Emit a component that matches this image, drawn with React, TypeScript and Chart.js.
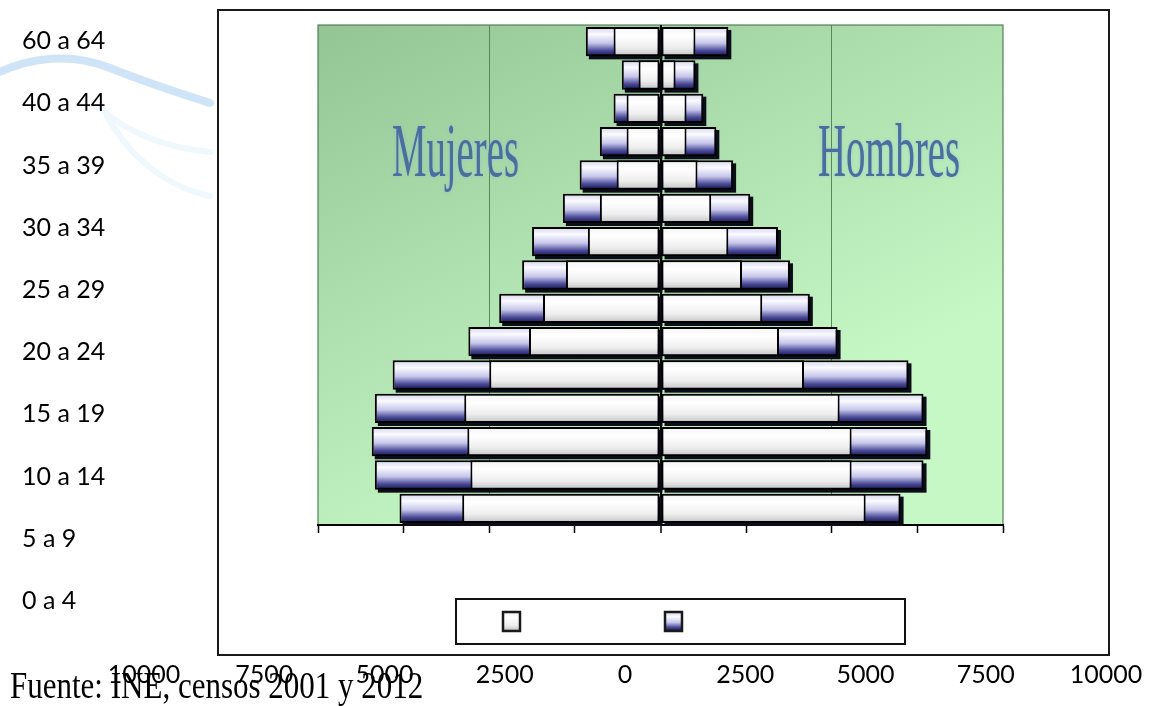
import React, { useEffect, useRef } from 'react';
import { Chart, registerables } from 'chart.js';
Chart.register(...registerables);

// ---------- data ----------
const ageGroups = ['0 a 4', '5 a 9', '10 a 14', '15 a 19', '20 a 24', '25 a 29', '30 a 34', '35 a 39', '40 a 44', '45 a 49', '50 a 54', '55 a 59', '60 a 64', '65 a 69', '70 y más'];
const mujeres2001 = [5790, 5550, 5640, 5730, 5000, 3840, 3430, 2760, 2120, 1770, 1280, 990, 990, 640, 1370];
const mujeres2012 = [7620, 8340, 8430, 8340, 7820, 5610, 4710, 4040, 3750, 2850, 2360, 1770, 1370, 1130, 2180];
const hombres2001 = [5990, 5580, 5580, 5230, 4190, 3460, 2970, 2380, 1980, 1480, 1080, 760, 760, 440, 1020];
const hombres2012 = [7010, 7680, 7790, 7680, 7240, 5170, 4360, 3780, 3430, 2620, 2120, 1630, 1250, 1020, 1980];
const seriesNames = ['Censo 2001', 'Censo 2012'];
const sideTitles = ['Mujeres', 'Hombres'];
const axisLabels = ['0 a 4', '5 a 9', '10 a 14', '15 a 19', '20 a 24', '25 a 29', '30 a 34', '35 a 39', '40 a 44', '60 a 64'];
const axisMin = -10000;
const axisMax = 10000;
const axisStep = 2500;
const sourceNote = 'Fuente: INE, censos 2001 y 2012';

const BAR_PCT = 0.88;
const LABEL_FONT = 'Lato, "Open Sans", sans-serif';
const X_LABEL_GAP = 59;

function whiteGradient(ctx: CanvasRenderingContext2D, y0: number, y1: number) {
  const g = ctx.createLinearGradient(0, y0, 0, y1);
  g.addColorStop(0, '#f4f4f4');
  g.addColorStop(0.3, '#ffffff');
  g.addColorStop(0.7, '#eeeeee');
  g.addColorStop(0.9, '#d0d0d0');
  g.addColorStop(1, '#a8a8a8');
  return g;
}
function blueGradient(ctx: CanvasRenderingContext2D, y0: number, y1: number) {
  const g = ctx.createLinearGradient(0, y0, 0, y1);
  g.addColorStop(0, '#d4d4ee');
  g.addColorStop(0.25, '#fafaff');
  g.addColorStop(0.55, '#c6c6ea');
  g.addColorStop(0.8, '#4c4c9a');
  g.addColorStop(1, '#12124c');
  return g;
}

function barFill(kind: 'white' | 'blue') {
  return (c: any) => {
    const chart = c.chart;
    const ys = chart.scales && chart.scales.y;
    const ca = chart.chartArea;
    if (!ca || !ys || c.dataIndex === undefined) return kind === 'white' ? '#eeeeee' : '#a0a0d8';
    const h = ((ca.bottom - ca.top) / ageGroups.length) * BAR_PCT;
    const yc = ys.getPixelForValue(c.dataIndex);
    return kind === 'white'
      ? whiteGradient(chart.ctx, yc - h / 2, yc + h / 2)
      : blueGradient(chart.ctx, yc - h / 2, yc + h / 2);
  };
}

const backgroundPlugin = {
  id: 'pyramidBackground',
  beforeDraw(chart: any) {
    const { ctx, chartArea: ca } = chart;
    ctx.save();
    // decorative swoosh
    ctx.lineCap = 'round';
    ctx.strokeStyle = '#cfe5f7';
    ctx.lineWidth = 8;
    ctx.beginPath();
    ctx.moveTo(0, 72);
    ctx.bezierCurveTo(30, 58, 70, 52, 110, 68);
    ctx.bezierCurveTo(150, 84, 185, 95, 210, 103);
    ctx.stroke();
    ctx.strokeStyle = '#eef8fd';
    ctx.lineWidth = 6;
    ctx.beginPath();
    ctx.moveTo(100, 108);
    ctx.bezierCurveTo(130, 135, 170, 148, 210, 152);
    ctx.stroke();
    ctx.beginPath();
    ctx.moveTo(105, 112);
    ctx.bezierCurveTo(130, 160, 170, 188, 210, 196);
    ctx.stroke();

    // outer frame
    const fx = ca.left - 100, fy = ca.top - 15;
    const fw = ca.right + 106 - fx, fh = ca.bottom + 130 - fy;
    ctx.fillStyle = '#ffffff';
    ctx.fillRect(fx, fy, fw, fh);
    ctx.strokeStyle = '#1a1a1a';
    ctx.lineWidth = 2;
    ctx.strokeRect(fx, fy, fw, fh);

    // plot area gradient
    const w = ca.right - ca.left;
    const g = ctx.createLinearGradient(ca.left, ca.top, ca.left + w * 0.35, ca.bottom);
    g.addColorStop(0, '#93c493');
    g.addColorStop(0.5, '#aedfae');
    g.addColorStop(1, '#c6f8c6');
    ctx.fillStyle = g;
    ctx.fillRect(ca.left, ca.top, w, ca.bottom - ca.top);
    ctx.strokeStyle = 'rgba(70,110,70,0.7)';
    ctx.lineWidth = 1.5;
    ctx.strokeRect(ca.left, ca.top, w, ca.bottom - ca.top);
    ctx.restore();
  },
  beforeDatasetsDraw(chart: any) {
    const { ctx, chartArea: ca } = chart;
    // side titles
    ctx.save();
    ctx.font = '76px "Liberation Serif", "Times New Roman", serif';
    ctx.fillStyle = '#4a6e9e';
    ctx.shadowColor = 'rgba(140,180,230,0.6)';
    ctx.shadowBlur = 3;
    const baseY = ca.top + 151;
    [ca.left + 74, ca.left + 500].forEach((x, i) => {
      ctx.save();
      ctx.translate(x, baseY);
      ctx.scale(0.51, 1);
      ctx.fillText(sideTitles[i], 0, 0);
      ctx.restore();
    });
    ctx.restore();
    // drop shadows of the bars
    ctx.save();
    ctx.fillStyle = '#0d0d1a';
    [2, 3].forEach((di) => {
      chart.getDatasetMeta(di).data.forEach((el: any) => {
        const p = el.getProps(['x', 'y', 'base', 'height'], true);
        const l = Math.min(p.x, p.base), r = Math.max(p.x, p.base);
        ctx.fillRect(l + 3, p.y - p.height / 2 + 3, r - l, p.height);
      });
    });
    ctx.restore();
  },
  afterDraw(chart: any) {
    const { ctx, chartArea: ca } = chart;
    ctx.save();
    const lx = ca.left + 138, ly = ca.bottom + 74, lw = 449, lh = 45;
    ctx.fillStyle = '#ffffff';
    ctx.fillRect(lx, ly, lw, lh);
    ctx.strokeStyle = '#111';
    ctx.lineWidth = 2;
    ctx.strokeRect(lx, ly, lw, lh);
    seriesNames.forEach((name, i) => {
      const sx = lx + 47 + i * 162, sy = ly + 13, s = 17;
      ctx.fillStyle = i === 0 ? whiteGradient(ctx, sy, sy + s + 2) : blueGradient(ctx, sy, sy + s + 2);
      ctx.fillRect(sx, sy, s, s + 2);
      ctx.strokeStyle = '#1a1a1a';
      ctx.lineWidth = 2.5;
      ctx.strokeRect(sx, sy, s, s + 2);
    });
    ctx.restore();
  },
};

function PyramidChart() {
  const ref = useRef<HTMLCanvasElement>(null);
  useEffect(() => {
    if (!ref.current) return;
    const common = {
      grouped: false,
      barPercentage: BAR_PCT,
      categoryPercentage: 1,
      borderColor: '#000',
      borderWidth: 2,
      borderSkipped: false as const,
    };
    const chart = new Chart(ref.current, {
      type: 'bar',
      data: {
        labels: ageGroups,
        datasets: [
          { ...common, label: seriesNames[0] + ' ' + sideTitles[0], data: mujeres2001.map((v) => -v), backgroundColor: barFill('white') },
          { ...common, label: seriesNames[0] + ' ' + sideTitles[1], data: hombres2001, backgroundColor: barFill('white') },
          { ...common, label: seriesNames[1] + ' ' + sideTitles[0], data: mujeres2012.map((v) => -v), backgroundColor: barFill('blue') },
          { ...common, label: seriesNames[1] + ' ' + sideTitles[1], data: hombres2012, backgroundColor: barFill('blue') },
        ],
      },
      options: {
        indexAxis: 'y',
        responsive: false,
        animation: false,
        devicePixelRatio: 1,
        layout: { padding: { left: 318, right: 163, top: 25, bottom: 173 } },
        plugins: { legend: { display: false }, tooltip: { enabled: false } },
        scales: {
          x: {
            type: 'linear',
            min: axisMin,
            max: axisMax,
            ticks: { stepSize: axisStep, display: false },
            grid: {
              color: (c: any) => {
                const v = c.tick ? c.tick.value : NaN;
                if (v === 0) return '#000';
                if (Math.abs(v) === 5000) return '#5a875a';
                return 'rgba(0,0,0,0)';
              },
              lineWidth: (c: any) => (c.tick && c.tick.value === 0 ? 2 : 1),
              drawTicks: true,
              tickLength: 8,
              tickColor: '#000',
              tickWidth: 1.5,
            },
            border: { display: true, color: '#000', width: 2 },
          },
          y: {
            type: 'category',
            reverse: true,
            display: false,
          },
        },
      },
      plugins: [backgroundPlugin],
    } as any);
    return () => chart.destroy();
  }, []);
  return <canvas ref={ref} width={1166} height={706} style={{ position: 'absolute', left: 0, top: 0 }} />;
}

function AxisOverlay() {
  const ref = useRef<HTMLCanvasElement>(null);
  useEffect(() => {
    if (!ref.current) return;
    const chart = new Chart(ref.current, {
      type: 'bar',
      data: { labels: axisLabels, datasets: [] },
      options: {
        indexAxis: 'y',
        responsive: false,
        animation: false,
        devicePixelRatio: 1,
        layout: { padding: { left: 22, right: 60, top: 41, bottom: 0 } },
        plugins: { legend: { display: false }, tooltip: { enabled: false } },
        scales: {
          x: {
            type: 'linear',
            min: axisMin,
            max: axisMax,
            grid: { display: false, drawTicks: false },
            border: { display: false },
            afterFit: (scale: any) => {
              scale.paddingLeft = Math.max(0, scale.paddingLeft - X_LABEL_GAP);
              scale.paddingRight = Math.max(0, scale.paddingRight - X_LABEL_GAP);
            },
            ticks: {
              stepSize: axisStep,
              padding: X_LABEL_GAP,
              maxRotation: 0,
              autoSkip: false,
              color: '#000',
              font: { family: LABEL_FONT, size: 25 },
              callback: (v: any) => String(Math.abs(Number(v))),
            },
          },
          y: {
            type: 'category',
            reverse: true,
            offset: false,
            grid: { display: false, drawTicks: false },
            border: { display: false },
            afterFit: (scale: any) => {
              scale.width = 122;
            },
            ticks: {
              crossAlign: 'far',
              autoSkip: false,
              color: '#000',
              font: { family: LABEL_FONT, size: 25 },
            },
          },
        },
      },
    } as any);
    return () => chart.destroy();
  }, []);
  return <canvas ref={ref} width={1166} height={749} style={{ position: 'absolute', left: 0, top: 0 }} />;
}

export default function App() {
  return (
    <div style={{ position: 'fixed', left: 0, top: 0, width: 1166, height: 706, background: '#fff', overflow: 'hidden' }}>
      <PyramidChart />
      <div
        style={{
          position: 'absolute',
          left: 10,
          top: 672,
          fontFamily: '"Liberation Serif", "Times New Roman", serif',
          fontSize: 31,
          lineHeight: '31px',
          whiteSpace: 'nowrap',
          color: '#000',
          transform: 'scaleY(1.2)',
          transformOrigin: '0 26px',
        }}
      >
        {sourceNote}
      </div>
      <AxisOverlay />
    </div>
  );
}
